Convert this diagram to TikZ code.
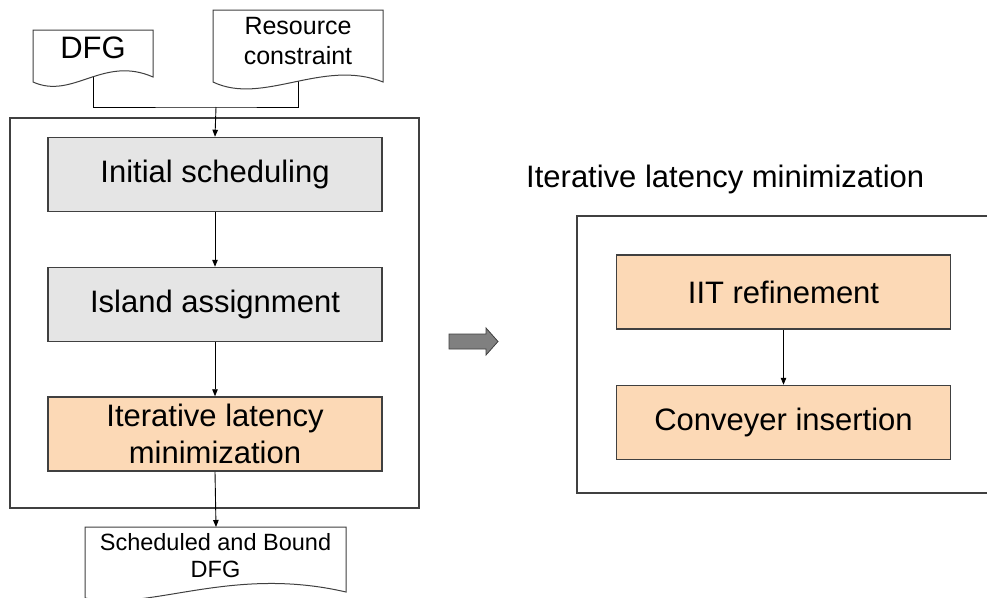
\documentclass[tikz,border=0pt]{standalone}
\usepackage{fontspec}
\setmainfont{Liberation Sans}
\usetikzlibrary{arrows.meta}
\definecolor{boxgray}{RGB}{229,229,229}
\definecolor{peach}{RGB}{252,217,182}
\definecolor{edge}{RGB}{64,64,64}
\definecolor{bigarrow}{RGB}{128,128,128}
\tikzset{
  stepbox/.style={draw=edge, line width=1.5pt, minimum width=334pt, minimum height=74pt, inner sep=0pt, align=center, font=\fontsize{31}{37}\selectfont},
  graybox/.style={stepbox, fill=boxgray},
  peachbox/.style={stepbox, fill=peach},
  frame/.style={draw=edge, line width=1.3pt},
  docline/.style={draw=edge, line width=1pt, fill=white},
  conn/.style={draw=black, line width=0.9pt},
  arr/.style={conn, -{Triangle[length=7pt,width=5.5pt]}},
}
\begin{document}
\begin{tikzpicture}[x=1pt,y=-1pt]
\useasboundingbox (0,0) rectangle (987,597);
\clip (0,0) rectangle (987,597);
\fill[white] (0,0) rectangle (987,597);

% left frame
\draw[frame] (10,118) rectangle (419,508);

% connectors from documents (drawn first, docs cover their ends)
\coordinate (dfgb) at (93,70);
\coordinate (resb) at (298,75);
\coordinate (mj) at (216,107);
\draw[conn] (dfgb) |- (mj) -| (resb);

% documents
\path[docline] (33,30) -- (153,30) -- (153,77)
  .. controls (103,55) and (73,100) .. (33,82) -- cycle;
\node[font=\fontsize{31}{37}\selectfont, inner sep=0pt] (dfg) at (93,48) {DFG};

\path[docline] (213,10) -- (383,10) -- (383,82)
  .. controls (323,58) and (263,106) .. (213,82) -- cycle;
\node[font=\fontsize{25}{30}\selectfont, align=center, inner sep=0pt] (res) at (298,41) {Resource\\constraint};

% step boxes
\node[graybox] (init) at (215,174.5) {Initial scheduling};
\node[graybox] (isl) at (215,304.5) {Island assignment};
\node[peachbox] (ilm) at (215,434) {Iterative latency\\minimization};

\draw[arr] (mj) -- (init.north);
\draw[arr] (init.south) -- (isl.north);
\draw[arr] (isl.south) -- (ilm.north);

% output document
\path[docline] (85,527) -- (346,527) -- (346,592)
  .. controls (230,565) and (150,612) .. (85,598) -- cycle;
\node[font=\fontsize{23.5}{27}\selectfont, align=center, inner sep=0pt] (out) at (215.5,556) {Scheduled and Bound\\DFG};
\coordinate (outtop) at (216,527);
\draw[arr] (ilm.south) -- (outtop);

% big gray arrow
\path[fill=bigarrow, draw=edge, line width=0.8pt]
  (449,334) -- (486,334) -- (486,328) -- (498,341.5) -- (486,355) -- (486,349) -- (449,349) -- cycle;

% right part
\node[font=\fontsize{31}{37}\selectfont, anchor=base west, inner sep=0pt] (title) at (526,187) {Iterative latency minimization};
\draw[frame] (577,216) rectangle (1000,493);
\node[peachbox] (iit) at (783.5,292) {IIT refinement};
\node[peachbox] (conv) at (783.5,422.5) {Conveyer insertion};
\draw[arr] (iit.south) -- (conv.north);
\end{tikzpicture}
\end{document}
